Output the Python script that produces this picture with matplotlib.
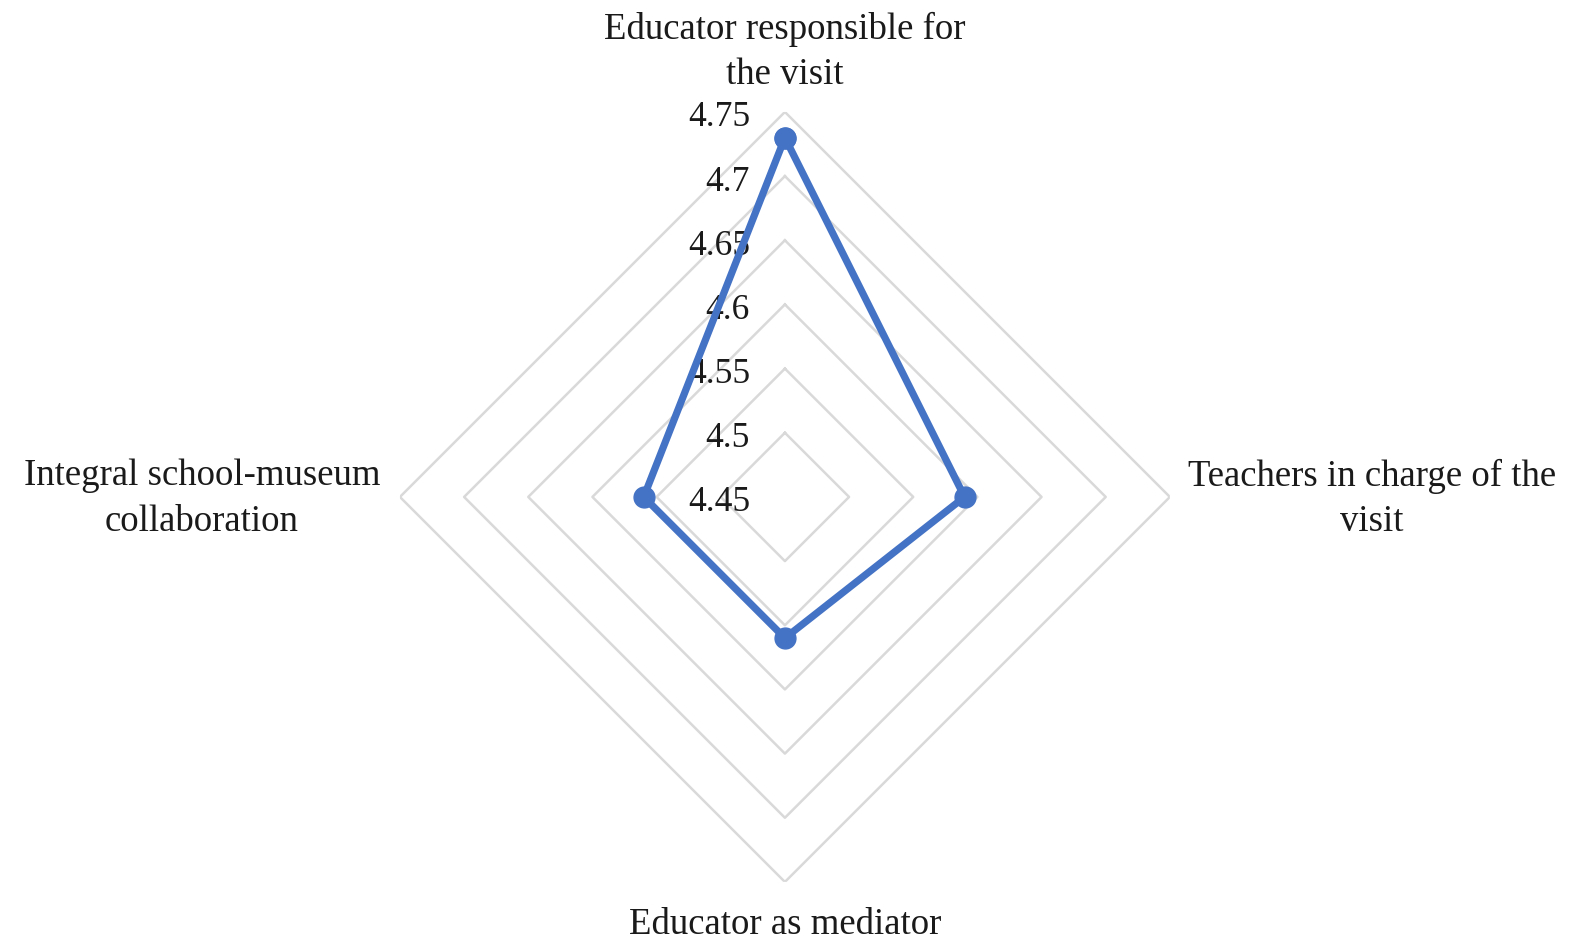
import matplotlib.pyplot as plt
import matplotlib.transforms as mtransforms
import numpy as np

plt.rcParams["font.family"] = ["Liberation Serif", "DejaVu Serif"]

categories = [
    "Educator responsible for\nthe visit",
    "Teachers in charge of the\nvisit",
    "Educator as mediator",
    "Integral school-museum\ncollaboration",
]
values = [4.73, 4.59, 4.56, 4.56]
rings = [4.5, 4.55, 4.6, 4.65, 4.7, 4.75]
ring_labels = ["4.45", "4.5", "4.55", "4.6", "4.65", "4.7", "4.75"]
r_min, r_max = 4.45, 4.75

fig = plt.figure(figsize=(15.82, 9.53), dpi=100)
ax = fig.add_axes([0.2528, 0.0735, 0.4867, 0.808], projection="polar")
ax.set_theta_offset(np.pi / 2)
ax.set_theta_direction(-1)
ax.set_ylim(r_min, r_max)
ax.grid(False)
ax.set_xticks([])
ax.set_yticks([])
ax.spines["polar"].set_visible(False)

n = len(categories)
theta = np.arange(n) * 2 * np.pi / n
theta_closed = np.append(theta, theta[0])

# diamond grid rings
for r in rings:
    ax.plot(theta_closed, [r] * (n + 1), color="#d9d9d9", lw=1.8, zorder=1)

# radial tick labels along the top spoke
off = mtransforms.offset_copy(ax.transData, fig=fig, x=-35, y=-5, units="dots")
for lab in ring_labels:
    ax.text(0, float(lab), lab, transform=off, ha="right", va="center",
            fontsize=25.5, color="#1a1a1a", zorder=2)

vals_closed = values + values[:1]
ax.plot(theta_closed, vals_closed, color="#4472C4", lw=5.2, marker="o",
        markersize=15, zorder=3, clip_on=False)

# category labels
kw = dict(transform=ax.transAxes, fontsize=26.5, color="#1a1a1a", linespacing=1.4)
ax.text(0.5, 1.079, categories[0], ha="center", va="center", **kw)
ax.text(1.262, 0.499, categories[1], ha="center", va="center", **kw)
ax.text(0.5, -0.054, categories[2], ha="center", va="center", **kw)
ax.text(-0.257, 0.499, categories[3], ha="center", va="center", **kw)

fig.savefig("out.png", dpi=100)
